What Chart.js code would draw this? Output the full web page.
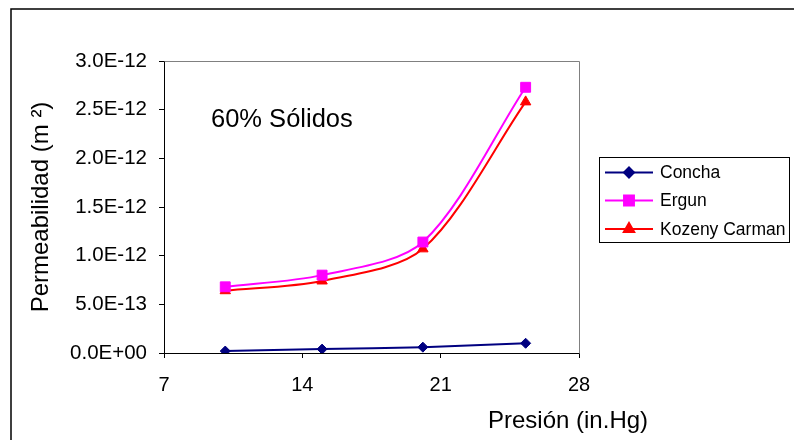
<!DOCTYPE html>
<html>
<head>
<meta charset="utf-8">
<script src="https://cdn.jsdelivr.net/npm/chart.js@4/dist/chart.umd.min.js"></script>
<style>
  html, body { margin: 0; padding: 0; background: #ffffff; }
  canvas { display: block; }
</style>
</head>
<body>
<canvas id="chart" width="794" height="440"></canvas>
<script>
// Pressure (in.Hg) at which each permeability was evaluated
const presion = [10.1, 15.0, 20.1, 25.3];

// Permeability (m²) by method
const concha = [2.0e-14, 4.0e-14, 6.0e-14, 1.0e-13];
const ergun = [6.8e-13, 8.0e-13, 1.14e-12, 2.73e-12];
const kozenyCarman = [6.4e-13, 7.4e-13, 1.07e-12, 2.58e-12];

const seriesNames = ['Concha', 'Ergun', 'Kozeny Carman'];
const xTicks = [7, 14, 21, 28];
const yTicks = [0, 5e-13, 1e-12, 1.5e-12, 2e-12, 2.5e-12, 3e-12];

const FONT = '"Liberation Sans", Arial, sans-serif';

function pairs(xs, ys) {
  return xs.map((x, i) => ({ x: x, y: ys[i] }));
}

// Scientific label like 3.0E-12 / 0.0E+00
function sciLabel(v) {
  if (Math.abs(v) < 1e-20) return '0.0E+00';
  const parts = v.toExponential(1).split('e');
  const exp = parseInt(parts[1], 10);
  const sign = exp < 0 ? '-' : '+';
  const mag = String(Math.abs(exp)).padStart(2, '0');
  return parts[0] + 'E' + sign + mag;
}

// Page background, outer frame and the grey top/right edges of the plot area
const framePlugin = {
  id: 'frame',
  beforeDraw(chart) {
    const ctx = chart.ctx;
    ctx.save();
    ctx.fillStyle = '#ffffff';
    ctx.fillRect(0, 0, chart.width, chart.height);
    ctx.strokeStyle = '#000000';
    ctx.lineWidth = 1.5;
    ctx.strokeRect(11, 9, chart.width + 20, chart.height + 20);
    ctx.restore();
  },
  beforeDatasetsDraw(chart) {
    const a = chart.chartArea;
    const ctx = chart.ctx;
    ctx.save();
    ctx.strokeStyle = '#808080';
    ctx.lineWidth = 1;
    ctx.beginPath();
    ctx.moveTo(Math.round(a.left) + 0.5, Math.round(a.top) + 0.5);
    ctx.lineTo(Math.round(a.right) + 0.5, Math.round(a.top) + 0.5);
    ctx.lineTo(Math.round(a.right) + 0.5, Math.round(a.bottom) + 0.5);
    ctx.stroke();
    ctx.restore();
  }
};

// Boxed legend on the right, the x-axis title and the in-plot caption
const textPlugin = {
  id: 'texts',
  afterDraw(chart) {
    const ctx = chart.ctx;
    ctx.save();

    // legend box
    ctx.strokeStyle = '#000000';
    ctx.lineWidth = 1;
    ctx.strokeRect(599.5, 157.5, 190, 85);
    const rows = [172.5, 200.5, 229];
    chart.data.datasets.forEach((ds, i) => {
      const y = rows[i];
      ctx.strokeStyle = ds.borderColor;
      ctx.lineWidth = 2;
      ctx.beginPath();
      ctx.moveTo(605, y);
      ctx.lineTo(653, y);
      ctx.stroke();
      ctx.fillStyle = ds.pointBackgroundColor;
      ctx.strokeStyle = ds.pointBorderColor;
      Chart.helpers.drawPoint(ctx, {
        pointStyle: ds.pointStyle,
        radius: ds.pointRadius,
        borderWidth: 1,
        rotation: 0
      }, 629, y);
      ctx.fillStyle = '#000000';
      ctx.font = '17.5px ' + FONT;
      ctx.textAlign = 'left';
      ctx.textBaseline = 'middle';
      ctx.fillText(ds.label, 660, y + 1);
    });

    // x-axis title
    ctx.fillStyle = '#000000';
    ctx.font = '24px ' + FONT;
    ctx.textAlign = 'left';
    ctx.textBaseline = 'alphabetic';
    ctx.fillText('Presión (in.Hg)', 488, 427.5);

    // caption inside the plot
    ctx.font = '25.5px ' + FONT;
    ctx.fillText('60% Sólidos', 211, 126.5);

    ctx.restore();
  }
};

const commonLine = { borderWidth: 2, tension: 0.3, fill: false, pointBorderWidth: 1 };

new Chart(document.getElementById('chart'), {
  type: 'line',
  data: {
    datasets: [
      Object.assign({
        label: seriesNames[0],
        data: pairs(presion, concha),
        borderColor: '#000080',
        backgroundColor: '#000080',
        pointBackgroundColor: '#000080',
        pointBorderColor: '#000080',
        pointStyle: 'rectRot',
        pointRadius: 5
      }, commonLine),
      Object.assign({
        label: seriesNames[1],
        data: pairs(presion, ergun),
        borderColor: '#FF00FF',
        backgroundColor: '#FF00FF',
        pointBackgroundColor: '#FF00FF',
        pointBorderColor: '#FF00FF',
        pointStyle: 'rect',
        pointRadius: 7
      }, commonLine),
      Object.assign({
        label: seriesNames[2],
        data: pairs(presion, kozenyCarman),
        borderColor: '#FF0000',
        backgroundColor: '#FF0000',
        pointBackgroundColor: '#FF0000',
        pointBorderColor: '#FF0000',
        pointStyle: 'triangle',
        pointRadius: 6
      }, commonLine)
    ]
  },
  options: {
    responsive: false,
    animation: false,
    devicePixelRatio: 1,
    layout: { padding: { top: 61, right: 215, left: 0, bottom: 0 } },
    plugins: {
      legend: { display: false },
      tooltip: { enabled: false }
    },
    scales: {
      x: {
        type: 'linear',
        min: xTicks[0],
        max: xTicks[xTicks.length - 1],
        afterFit(s) { s.height = 87; },
        afterBuildTicks(s) { s.ticks = xTicks.map(v => ({ value: v })); },
        grid: { display: true, drawOnChartArea: false, drawTicks: true, tickLength: 5, color: '#000000' },
        border: { display: true, color: '#000000', width: 1 },
        ticks: {
          padding: 15,
          color: '#000000',
          font: { family: FONT, size: 20 },
          maxRotation: 0,
          callback: v => String(v)
        },
        title: { display: false }
      },
      y: {
        type: 'linear',
        min: yTicks[0],
        max: yTicks[yTicks.length - 1],
        afterFit(s) { s.width = 164; },
        afterBuildTicks(s) { s.ticks = yTicks.map(v => ({ value: v })); },
        grid: { display: true, drawOnChartArea: false, drawTicks: true, tickLength: 5, color: '#000000' },
        border: { display: true, color: '#000000', width: 1 },
        ticks: {
          padding: 12,
          color: '#000000',
          font: { family: FONT, size: 20.5 },
          callback: v => sciLabel(v)
        },
        title: {
          display: true,
          text: 'Permeabilidad (m ²)',
          color: '#000000',
          font: { family: FONT, size: 24 },
          padding: { top: 27, bottom: 0 }
        }
      }
    }
  },
  plugins: [framePlugin, textPlugin]
});
</script>
</body>
</html>
